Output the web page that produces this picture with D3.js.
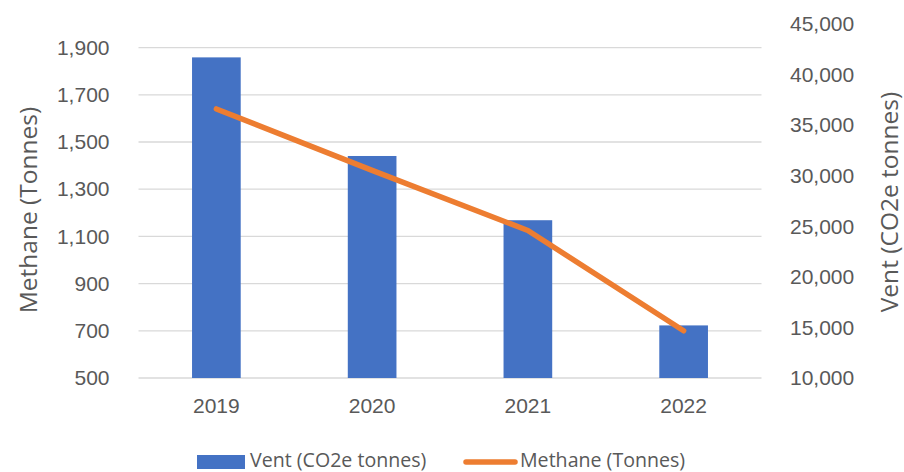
<!DOCTYPE html>
<html>
<head>
<meta charset="utf-8">
<script src="https://cdn.jsdelivr.net/npm/d3@7/dist/d3.min.js"></script>
<style>
  html, body { margin: 0; padding: 0; background: #fff; }
  svg { display: block; font-family: "Open Sans", "Noto Sans", sans-serif; }
</style>
</head>
<body>
<svg id="chart" width="904" height="472"></svg>
<script>
// Annual emissions: vent volumes (bars, right axis) and methane (line, left axis)
const years = ["2019", "2020", "2021", "2022"];
const ventCO2e = [41700, 31950, 25600, 15200];
const methaneTonnes = [1640, 1380, 1125, 700];

const leftTicks = [500, 700, 900, 1100, 1300, 1500, 1700, 1900];
const rightTicks = [10000, 15000, 20000, 25000, 30000, 35000, 40000, 45000];

const seriesNames = { vent: "Vent (CO2e tonnes)", methane: "Methane (Tonnes)" };
const axisTitles = { left: "Methane (Tonnes)", right: "Vent (CO2e tonnes)" };

const colors = { bar: "#4472c4", line: "#ed7d31", text: "#595959", grid: "#d9d9d9" };

const svg = d3.select("#chart");
const plot = { left: 138.5, right: 761.5, top: 24, bottom: 378 };

const x = d3.scaleBand().domain(years).range([plot.left, plot.right]).paddingInner(0).paddingOuter(0);
const yLeft = d3.scaleLinear().domain([500, 2000]).range([plot.bottom, plot.top]);
const yRight = d3.scaleLinear().domain([10000, 45000]).range([plot.bottom, plot.top]);

const fmt = d3.format(",");
const tickSize = 21;
const titleSize = 24.5;
const legendSize = 19.6;

// Horizontal gridlines on the primary (methane) ticks
svg.append("g")
  .selectAll("line")
  .data(leftTicks)
  .join("line")
  .attr("x1", plot.left).attr("x2", plot.right)
  .attr("y1", d => yLeft(d)).attr("y2", d => yLeft(d))
  .attr("stroke", colors.grid).attr("stroke-width", 1.3);

// Left axis
const leftAxis = svg.append("g")
  .attr("transform", `translate(${plot.left},0)`)
  .call(d3.axisLeft(yLeft).tickValues(leftTicks).tickFormat(fmt).tickSize(0).tickPadding(29));
leftAxis.select(".domain").remove();
leftAxis.selectAll("text").attr("fill", colors.text).style("font-size", tickSize + "px");

// Right axis
const rightAxis = svg.append("g")
  .attr("transform", `translate(${plot.right},0)`)
  .call(d3.axisRight(yRight).tickValues(rightTicks).tickFormat(fmt).tickSize(0).tickPadding(28.5));
rightAxis.select(".domain").remove();
rightAxis.selectAll("text").attr("fill", colors.text).style("font-size", tickSize + "px");

// Category axis
const bottomAxis = svg.append("g")
  .attr("transform", `translate(0,${plot.bottom})`)
  .call(d3.axisBottom(x).tickSize(0).tickPadding(20));
bottomAxis.select(".domain").remove();
bottomAxis.selectAll("text").attr("fill", colors.text).style("font-size", tickSize + "px");

// Bars
const barW = x.bandwidth() / 3.2;
svg.append("g")
  .selectAll("rect")
  .data(years.map((yr, i) => ({ yr, v: ventCO2e[i] })))
  .join("rect")
  .attr("x", d => x(d.yr) + x.bandwidth() / 2 - barW / 2)
  .attr("width", barW)
  .attr("y", d => yRight(d.v))
  .attr("height", d => yRight(10000) - yRight(d.v))
  .attr("fill", colors.bar);

// Methane line
const line = d3.line()
  .x(d => x(d.yr) + x.bandwidth() / 2)
  .y(d => yLeft(d.v));
svg.append("path")
  .datum(years.map((yr, i) => ({ yr, v: methaneTonnes[i] })))
  .attr("d", line)
  .attr("fill", "none")
  .attr("stroke", colors.line)
  .attr("stroke-width", 5.5)
  .attr("stroke-linecap", "round")
  .attr("stroke-linejoin", "round");

// Axis titles
svg.append("text")
  .attr("transform", `translate(28,210) rotate(-90)`)
  .attr("text-anchor", "middle")
  .attr("dy", "0.35em")
  .attr("fill", colors.text)
  .style("font-size", titleSize + "px")
  .text(axisTitles.left);

svg.append("text")
  .attr("transform", `translate(889,202) rotate(-90)`)
  .attr("text-anchor", "middle")
  .attr("dy", "0.35em")
  .attr("fill", colors.text)
  .style("font-size", titleSize + "px")
  .text(axisTitles.right);

// Legend
const legend = svg.append("g");
legend.append("rect")
  .attr("x", 197).attr("y", 455).attr("width", 48).attr("height", 14)
  .attr("fill", colors.bar);
legend.append("text")
  .attr("x", 250).attr("y", 460).attr("dy", "0.35em")
  .attr("fill", colors.text).style("font-size", legendSize + "px")
  .text(seriesNames.vent);
legend.append("line")
  .attr("x1", 466).attr("x2", 515).attr("y1", 462).attr("y2", 462)
  .attr("stroke", colors.line).attr("stroke-width", 5.5).attr("stroke-linecap", "round");
legend.append("text")
  .attr("x", 520).attr("y", 460).attr("dy", "0.35em")
  .attr("fill", colors.text).style("font-size", legendSize + "px")
  .text(seriesNames.methane);
</script>
</body>
</html>
